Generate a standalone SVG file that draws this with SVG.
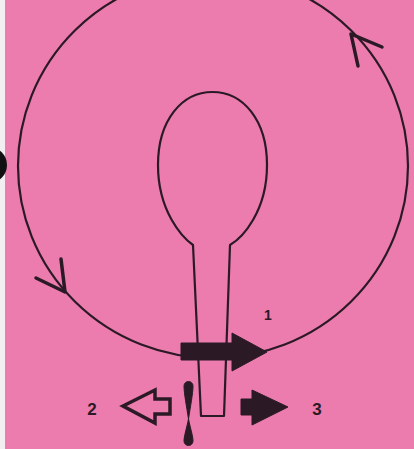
<svg xmlns="http://www.w3.org/2000/svg" width="414" height="449" viewBox="0 0 414 449">
<style>
.ln{fill:none;stroke:#2b1a26;stroke-width:2.2;stroke-linejoin:round}
.chev{fill:none;stroke:#2b1a26;stroke-width:3.5;stroke-linecap:round;stroke-linejoin:round}
.solid{fill:#2b1a26;stroke:#2b1a26;stroke-width:1;stroke-linejoin:round}
.hollow{fill:#ec7bae;stroke:#2b1a26;stroke-width:3.5;stroke-linejoin:miter}
.lbl{font-family:"Liberation Sans",Arial,sans-serif;font-weight:bold;fill:#2b1a26;text-anchor:middle}
</style>
<rect x="0" y="0" width="414" height="449" fill="#ec7bae"/>
<rect x="0" y="0" width="5" height="449" fill="#f3eef0"/>
<circle cx="-11" cy="165" r="18" fill="#111"/>
<g id="connectors">
  <ellipse class="ln" cx="213" cy="166" rx="195" ry="192"/>
  <polyline class="chev" points="382,47 351,34 358,66"/>
  <polyline class="chev" points="61,259 65,292 36,278"/>
</g>
<g id="spoon">
  <path class="ln" d="M193,245 C183,238 158,212 158,165 C158,120 182,92 212.5,92 C243,92 267,120 267,165 C267,212 242,238 230,245 L224,416 L201,416 Z"/>
</g>
<g id="arrow1">
  <path class="solid" d="M181,343 L232,343 L232,333 L267,352 L232,371 L232,360 L181,360 Z"/>
</g>
<g id="arrow2">
  <path class="hollow" d="M123,406 L155,390 L155,399 L170,399 L170,414 L155,414 L155,423 Z"/>
</g>
<g id="arrow3">
  <path class="solid" d="M241,399 L252,399 L252,390 L288,407 L252,425 L252,415 L241,415 Z"/>
</g>
<g id="propeller">
  <path class="solid" d="M188.5,419 C186.5,406 184,393 184,386 A4.5,4.5 0 0 1 193,386 C193,393 190.5,406 188.5,419 C190.5,429 193,436 193,441 A4.5,4.5 0 0 1 184,441 C184,436 186.5,429 188.5,419 Z"/>
</g>
<g id="labels">
  <text class="lbl" x="268" y="320" font-size="14">1</text>
  <text class="lbl" x="92" y="415" font-size="17">2</text>
  <text class="lbl" x="317" y="415" font-size="17">3</text>
</g>
</svg>
